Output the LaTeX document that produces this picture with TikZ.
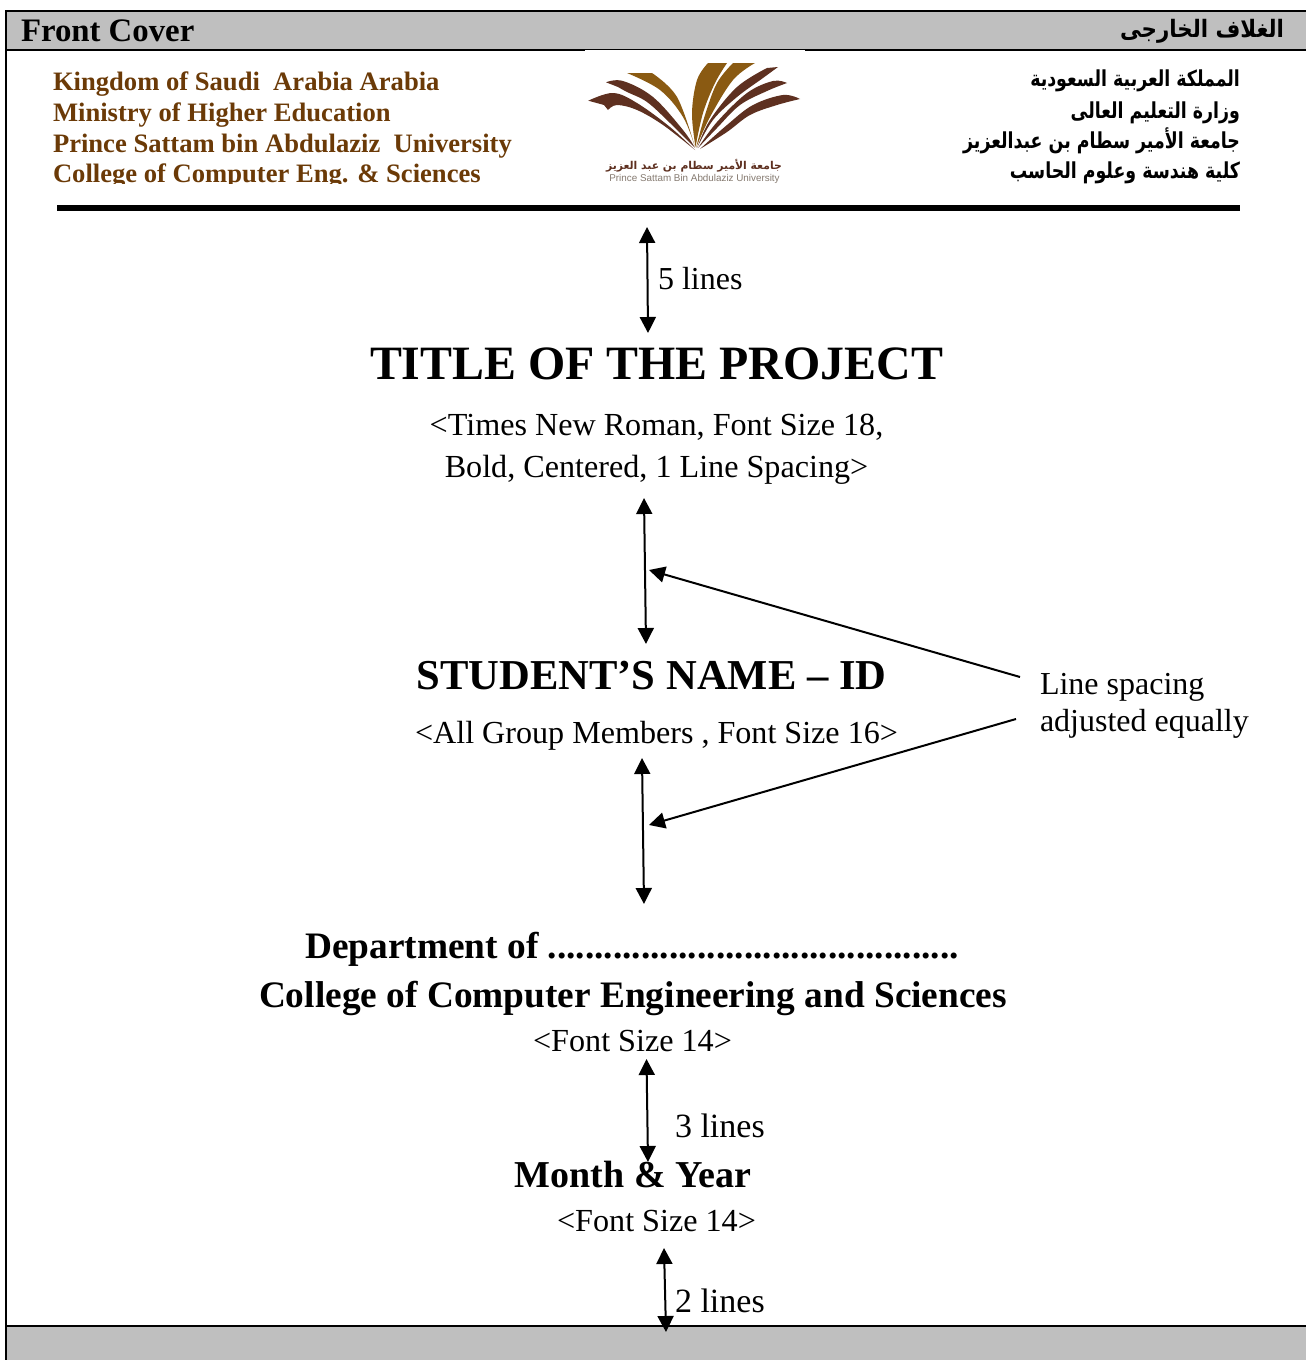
\documentclass[tikz,border=0pt]{standalone}
\usepackage{fontspec}
\usetikzlibrary{arrows.meta}
\setmainfont{Liberation Serif}
\newfontfamily\arabicfont[Script=Arabic,FakeStretch=0.79]{DejaVu Sans Bold}
\newfontfamily\arabichead[Script=Arabic,FakeStretch=0.89]{DejaVu Sans Bold}
\newfontfamily\logoarabic[Script=Arabic]{DejaVu Sans Bold}
\newfontfamily\logosans{Liberation Sans}
\TeXXeTstate=1
\definecolor{bandgrey}{HTML}{BFBFBF}
\definecolor{uniBrown}{HTML}{6B3A07}
\definecolor{leafDark}{HTML}{5E3020}
\definecolor{leafGold}{HTML}{8A5A12}
\definecolor{logoGrey}{HTML}{857A70}
\newcommand{\fs}[1]{\fontsize{#1}{#1}\selectfont}
\tikzset{
  x=1pt,y=-1pt,
  txt/.style={inner sep=0pt,outer sep=0pt,text=black},
  bothway/.style={{Triangle[length=16pt,width=16pt]}-{Triangle[length=16pt,width=16pt]},line width=2pt},
  oneway/.style={-{Triangle[length=16pt,width=16pt]},line width=2pt},
  rulethin/.style={line width=2pt,black},
  leafd/.style={fill=leafDark,draw=none},
  leafg/.style={fill=leafGold,draw=none}
}
\begin{document}
\begin{tikzpicture}
\useasboundingbox (0,0) rectangle (1306,1360);
\fill[white] (0,0) rectangle (1306,1360);
% bands
\fill[bandgrey] (6,11) rectangle (1306,50);
\fill[bandgrey] (6,1326) rectangle (1306,1360);
\draw[rulethin] (1306,11) -- (6,11) -- (6,1360);
\draw[rulethin] (6,50) -- (1306,50);
\draw[rulethin] (6,1326) -- (1306,1326);
\fill[white] (585,49.5) rectangle (805,53);
% header texts
\node[txt,anchor=base west] (front) at (21,41) {\fs{32.8}\bfseries Front Cover};
\node[txt,anchor=base east] (frontar) at (1284,37) {\arabichead\fs{24}\beginR الغلاف الخارجى\endR};
\begin{scope}
\clip (40,55) rectangle (560,183);
\node[txt,anchor=base west,text=uniBrown] (l1) at (53,90) {\fs{26.6}\bfseries Kingdom of Saudi\ \ Arabia Arabia};
\node[txt,anchor=base west,text=uniBrown] (l2) at (53,121) {\fs{26.6}\bfseries Ministry of Higher Education};
\node[txt,anchor=base west,text=uniBrown] (l3) at (53,152) {\fs{26.6}\bfseries Prince Sattam bin Abdulaziz\ \ University};
\node[txt,anchor=base west,text=uniBrown] (l4) at (53,182) {\fs{26.6}\bfseries College of Computer Eng. \& Sciences};
\end{scope}
\node[txt,anchor=base east] (r1) at (1240,86) {\arabicfont\fs{22}\beginR المملكة العربية السعودية\endR};
\node[txt,anchor=base east] (r2) at (1240,118) {\arabicfont\fs{22}\beginR وزارة التعليم العالى\endR};
\node[txt,anchor=base east] (r3) at (1240,148) {\arabicfont\fs{22}\beginR جامعة الأمير سطام بن عبدالعزيز\endR};
\node[txt,anchor=base east] (r4) at (1240,178) {\arabicfont\fs{22}\beginR كلية هندسة وعلوم الحاسب\endR};
% logo
\fill[leafd] plot[smooth,tension=.6] coordinates {(588.3,100.7) (613,93) (637,103) (670,127) (695,150)} -- plot[smooth,tension=.6] coordinates {(695,150) (663,125) (637,110) (617,105) (608,110)} -- (604,105) -- cycle;
\fill[leafd] plot[smooth,tension=.6] coordinates {(606,82.3) (623,81) (653,97) (683,130) (695,148)} -- plot[smooth,tension=.6] coordinates {(695,148) (670,123) (647,102) (627,92) (618,87)} -- cycle;
\fill[leafg] plot[smooth,tension=.6] coordinates {(652,73) (677,97) (695,147)} -- plot[smooth,tension=.6] coordinates {(695,147) (683,117) (660,90) (627,73)} -- cycle;
\fill[leafg] plot[smooth,tension=.6] coordinates {(727,63) (715,83) (703,113) (695.5,147)} -- plot[smooth,tension=.6] coordinates {(695.5,147) (692,113) (697,80) (708,63)} -- cycle;
\fill[leafg] plot[smooth,tension=.6] coordinates {(755,63) (733,80) (710,117) (696,148)} -- plot[smooth,tension=.6] coordinates {(696,148) (705,115) (717,83) (733,63)} -- cycle;
\fill[leafd] plot[smooth,tension=.6] coordinates {(767,68) (737,87) (710,120) (697,148)} -- plot[smooth,tension=.6] coordinates {(697,148) (713,120) (737,97) (763,78) (778,67)} -- cycle;
\fill[leafd] plot[smooth,tension=.6] coordinates {(787,83) (773,81) (747,93) (717,122) (698,148)} -- plot[smooth,tension=.6] coordinates {(698,148) (717,128) (740,105) (767,91) (787,83)} -- cycle;
\fill[leafd] plot[smooth,tension=.6] coordinates {(800,99) (783,95) (753,105) (727,125) (700,149)} -- plot[smooth,tension=.6] coordinates {(700,149) (727,132) (750,115) (777,105) (800,99)} -- cycle;
\node[txt,anchor=base,text=leafDark] (logoar) at (694,169) {\logoarabic\fs{10.8}\beginR جامعة الأمير سطام بن عبد العزيز\endR};
\node[txt,anchor=base,text=logoGrey] (logoen) at (694.5,181) {\logosans\fs{9.85}Prince Sattam Bin Abdulaziz University};
% thick rule
\fill[black] (57,205) rectangle (1240,211);
% body text
\node[txt,anchor=base] (title) at (656.5,379) {\fs{47.85}\bfseries TITLE OF THE PROJECT};
\node[txt,anchor=base] (tnote1) at (656.5,435) {\fs{32.15}<Times New Roman, Font Size 18,};
\node[txt,anchor=base] (tnote2) at (656.5,477) {\fs{32.15}Bold, Centered, 1 Line Spacing>};
\node[txt,anchor=base] (name) at (651.5,689) {\fs{42.6}\bfseries STUDENT’S NAME – ID};
\node[txt,anchor=base] (nnote) at (656.5,743) {\fs{32.1}<All Group Members , Font Size 16>};
\node[txt,anchor=base] (dept) at (632,958) {\fs{37.35}\bfseries Department of ............................................};
\node[txt,anchor=base] (coll) at (633,1007) {\fs{37.35}\bfseries College of Computer Engineering and Sciences};
\node[txt,anchor=base] (dnote) at (632.5,1051) {\fs{32.15}<Font Size 14>};
\node[txt,anchor=base] (month) at (633,1187) {\fs{38}\bfseries Month \& Year};
\node[txt,anchor=base] (mnote) at (656.5,1231) {\fs{32.15}<Font Size 14>};
\node[txt,anchor=base west] (five) at (658,289) {\fs{32}5 lines};
\node[txt,anchor=base west] (three) at (675,1137) {\fs{34}3 lines};
\node[txt,anchor=base west] (two) at (675,1312) {\fs{34}2 lines};
\node[txt,anchor=base west] (ls1) at (1040,694) {\fs{32}Line spacing};
\node[txt,anchor=base west] (ls2) at (1040,731) {\fs{32}adjusted equally};
% connector ends
\coordinate (a1t) at (647,227); \coordinate (a1b) at (648,333);
\coordinate (a2t) at (644,498); \coordinate (a2b) at (646,644);
\coordinate (a3t) at (642,758); \coordinate (a3b) at (644,904);
\coordinate (a4t) at (646.5,1059); \coordinate (a4b) at (648,1162);
\coordinate (a5t) at (664,1248); \coordinate (a5b) at (666,1332);
\coordinate (p1s) at (1020,677); \coordinate (p1e) at (649,570);
\coordinate (p2s) at (1016,719); \coordinate (p2e) at (649,825);
\draw[bothway] (a1t) -- (a1b);
\draw[bothway] (a2t) -- (a2b);
\draw[bothway] (a3t) -- (a3b);
\draw[bothway] (a4t) -- (a4b);
\draw[bothway] (a5t) -- (a5b);
\draw[oneway] (p1s) -- (p1e);
\draw[oneway] (p2s) -- (p2e);
\end{tikzpicture}
\end{document}
